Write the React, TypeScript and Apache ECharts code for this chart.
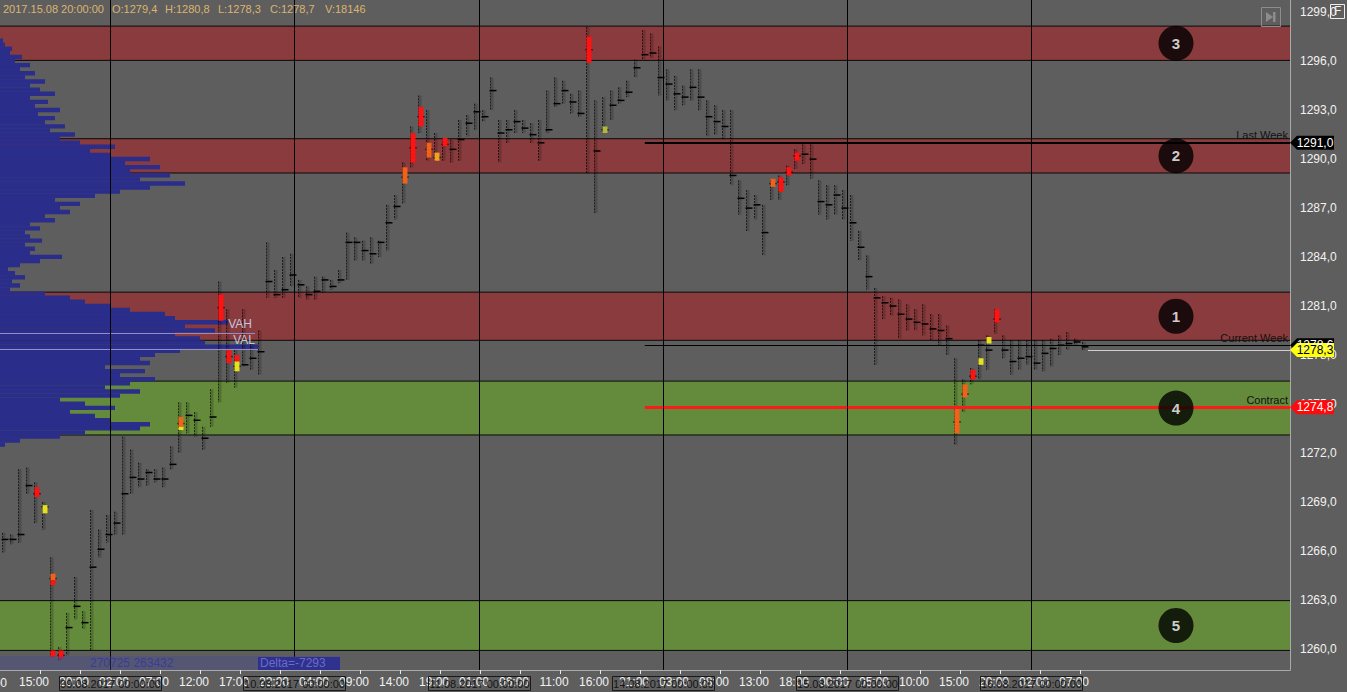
import React, { useEffect, useRef } from 'react';
import * as echarts from 'echarts';

// ---------- data ----------
const highs = [
  1267.1, 1267.0, 1271.0, 1271.1, 1270.2, 1269.0, 1265.6, 1260.1, 1262.2, 1264.4,
  1262.3, 1268.5, 1267.3, 1268.2, 1268.4, 1273.0, 1272.2, 1271.4, 1271.0, 1271.0,
  1271.1, 1272.4, 1275.1, 1275.1, 1274.5, 1273.6, 1275.9, 1282.5, 1280.8, 1278.3,
  1280.8, 1278.7, 1279.5, 1284.9, 1283.2, 1284.0, 1284.2, 1282.6, 1282.2, 1282.8,
  1282.8, 1282.6, 1283.2, 1285.5, 1285.2, 1285.0, 1285.2, 1285.0, 1287.2, 1287.8,
  1289.8, 1292.0, 1293.9, 1293.0, 1291.6, 1291.3, 1291.2, 1292.4, 1292.7, 1293.4,
  1293.0, 1295.0, 1292.4, 1292.4, 1293.0, 1292.4, 1292.2, 1292.4, 1294.2, 1295.0,
  1294.8, 1294.0, 1294.2, 1298.1, 1293.6, 1293.8, 1294.2, 1294.4, 1294.8, 1296.1,
  1297.9, 1297.7, 1296.9, 1295.5, 1295.1, 1294.5, 1295.5, 1295.5, 1293.6, 1293.3,
  1293.0, 1293.0, 1288.7, 1288.1, 1287.8, 1287.2, 1288.7, 1289.0, 1289.6, 1290.6,
  1290.9, 1290.9, 1288.7, 1288.4, 1288.4, 1288.1, 1287.8, 1285.6, 1284.1, 1282.1,
  1281.6, 1281.5, 1281.4, 1281.1, 1280.8, 1281.1, 1280.5, 1280.5, 1279.8, 1277.8,
  1276.5, 1277.2, 1278.9, 1279.2, 1280.8, 1279.2, 1278.9, 1278.9, 1278.9, 1278.9,
  1278.9, 1279.0, 1279.2, 1279.4, 1279.0, 1278.8,
];
const lows = [
  1265.9, 1266.4, 1266.5, 1269.5, 1267.7, 1267.3, 1259.5, 1259.3, 1259.6, 1261.8,
  1261.2, 1259.9, 1265.6, 1266.5, 1267.0, 1267.0, 1269.5, 1269.9, 1270.0, 1270.2,
  1269.9, 1271.0, 1272.0, 1273.2, 1273.0, 1272.2, 1273.6, 1275.1, 1276.3, 1276.0,
  1277.3, 1277.1, 1276.8, 1281.5, 1281.5, 1281.5, 1282.2, 1281.5, 1281.4, 1281.4,
  1281.8, 1282.0, 1282.4, 1282.6, 1283.8, 1283.8, 1283.6, 1284.0, 1284.4, 1286.3,
  1287.3, 1289.5, 1291.6, 1289.9, 1289.9, 1289.9, 1289.8, 1289.9, 1291.4, 1291.8,
  1292.3, 1293.0, 1289.8, 1291.0, 1291.6, 1291.6, 1291.0, 1289.9, 1291.6, 1293.2,
  1293.4, 1292.8, 1292.6, 1289.1, 1286.7, 1291.6, 1292.4, 1293.4, 1293.8, 1295.0,
  1296.1, 1296.2, 1293.9, 1293.6, 1293.0, 1293.3, 1293.6, 1293.0, 1291.4, 1291.5,
  1291.2, 1288.4, 1286.6, 1285.6, 1286.3, 1284.1, 1287.5, 1287.5, 1288.4, 1289.4,
  1289.7, 1288.8, 1286.6, 1286.3, 1286.6, 1286.3, 1285.0, 1283.8, 1282.0, 1277.4,
  1280.2, 1280.4, 1279.0, 1279.5, 1279.5, 1279.2, 1278.9, 1278.6, 1278.0, 1272.5,
  1274.5, 1276.2, 1276.5, 1277.1, 1279.3, 1277.8, 1276.8, 1277.1, 1277.4, 1277.1,
  1277.0, 1277.3, 1278.0, 1278.3, 1278.6, 1278.3,
];
const pocs = [
  1266.7, 1266.7, 1267.0, 1270.0, 1269.5, 1268.7, 1264.3, 1259.6, 1261.3, 1262.6,
  1261.6, 1265.0, 1266.1, 1267.0, 1267.7, 1269.5, 1270.5, 1270.4, 1270.8, 1270.4,
  1270.4, 1271.3, 1273.8, 1274.3, 1274.0, 1272.9, 1274.2, 1280.9, 1277.9, 1277.3,
  1277.4, 1277.8, 1278.2, 1282.5, 1281.7, 1282.0, 1282.9, 1282.3, 1281.7, 1281.9,
  1282.6, 1282.2, 1282.6, 1284.9, 1284.9, 1284.4, 1284.2, 1284.9, 1286.1, 1287.1,
  1288.9, 1290.7, 1292.6, 1290.6, 1290.1, 1290.9, 1290.6, 1291.2, 1292.2, 1292.9,
  1292.6, 1294.2, 1291.6, 1291.8, 1292.3, 1291.9, 1291.5, 1291.0, 1291.8, 1293.4,
  1294.2, 1293.5, 1292.8, 1296.7, 1290.5, 1291.8, 1293.3, 1293.6, 1294.1, 1295.6,
  1296.4, 1296.5, 1295.0, 1294.6, 1294.0, 1293.8, 1294.4, 1293.8, 1292.6, 1292.3,
  1292.0, 1289.0, 1287.6, 1287.0, 1287.2, 1285.5, 1288.5, 1288.6, 1289.2, 1290.2,
  1290.3, 1290.0, 1287.4, 1287.2, 1287.8, 1287.0, 1286.1, 1284.6, 1282.8, 1281.5,
  1281.2, 1281.0, 1280.5, 1280.2, 1280.0, 1279.9, 1279.6, 1279.5, 1279.0, 1273.9,
  1275.6, 1276.7, 1278.6, 1278.3, 1280.2, 1278.3, 1277.6, 1277.8, 1277.9, 1277.5,
  1278.1, 1278.4, 1278.6, 1278.7, 1278.8, 1278.5,
];

// volume clusters (bar index, price range, heat)
const heatBars = [4, 5, 6, 6, 6, 7, 22, 22, 27, 28, 29, 29, 50, 51, 52, 53, 54, 55, 73, 75, 96, 97, 98, 99, 119, 120, 121, 122, 123, 124];
const heatLows = [1269.3, 1268.3, 1264.2, 1263.9, 1259.5, 1259.4, 1273.6, 1273.4, 1280.1, 1277.5, 1277.6, 1277.0, 1288.5, 1289.8, 1292.0, 1290.1, 1289.9, 1290.8, 1295.9, 1291.6, 1288.3, 1288.0, 1289.0, 1289.9, 1273.2, 1275.4, 1276.5, 1277.4, 1278.7, 1280.0];
const heatHighs = [1269.9, 1268.8, 1264.6, 1264.2, 1259.9, 1259.9, 1274.2, 1273.6, 1281.7, 1278.3, 1278.0, 1277.6, 1289.5, 1291.6, 1293.2, 1291.0, 1290.4, 1291.3, 1297.5, 1292.0, 1288.8, 1288.9, 1289.5, 1290.4, 1274.8, 1276.2, 1277.1, 1277.8, 1279.1, 1280.8];
const heatKinds = ['red', 'yellow', 'orange', 'red', 'red', 'red', 'orange', 'yellow', 'red', 'red', 'red', 'yellow', 'orange', 'red', 'red', 'orange', 'amber', 'red', 'red', 'olive', 'orange', 'red', 'red', 'red', 'orange', 'orange', 'red', 'yellow', 'yellow', 'red'];

// volume profile (price levels from PROFILE_BASE, every PROFILE_STEP)
const PROFILE_BASE = 1272.5;
const PROFILE_STEP = 0.25;
const profileVol = [
  5, 20, 60, 85, 140, 150, 110, 95, 70, 115,
  85, 60, 120, 140, 105, 130, 155, 120, 145, 105,
  150, 140, 155, 180, 258, 205, 200, 175, 215, 185,
  228, 175, 165, 130, 110, 85, 70, 45, 10, 20,
  12, 25, 15, 8, 20, 40, 62, 30, 35, 25,
  42, 30, 25, 40, 30, 55, 45, 70, 60, 80,
  55, 95, 120, 150, 185, 140, 170, 130, 160, 125,
  150, 110, 90, 115, 80, 60, 75, 50, 65, 45,
  55, 38, 60, 35, 48, 30, 55, 40, 30, 45,
  25, 35, 20, 30, 15, 22, 10, 12, 5, 3,
];
const VAH = 1279.35;
const VAL = 1278.37;

// zones
const zoneLows = [1296.05, 1289.15, 1278.9, 1273.1, 1259.9];
const zoneHighs = [1298.15, 1291.25, 1281.85, 1276.4, 1262.95];
const zoneKinds = ['red', 'red', 'red', 'green', 'green'];
const zoneLabels = ['3', '2', '1', '4', '5'];

// levels
const LAST_WEEK = 1291.0;
const CURRENT_WEEK = 1278.6;
const CONTRACT = 1274.8;
const LAST_PRICE = 1278.3;
const LEVELS_FROM = 80.1; // bar position where weekly levels start

// time axis
const timeLabels = ['10:00', '15:00', '20:00', '02:00', '07:00', '12:00', '17:00', '22:00', '04:00', '09:00', '14:00', '19:00', '01:00', '06:00', '11:00', '16:00', '21:00', '03:00', '08:00', '13:00', '18:00', '00:00', '05:00', '10:00', '15:00', '20:00', '02:00', '07:00'];
const daySeps = [13.25, 36.25, 59.4, 82.4, 105.4, 128.4];
const dayLabels = ['09.08.2017 00:00:00', '10.08.2017 00:00:00', '11.08.2017 00:00:00', '14.08.2017 00:00:00', '15.08.2017 00:00:00', '16.08.2017 00:00:00'];
const priceTicks = [1260, 1263, 1266, 1269, 1272, 1275, 1278, 1281, 1284, 1287, 1290, 1293, 1296, 1299];

// header
const headerDate = '2017.15.08 20:00:00';
const headerOHLC = ['O:1279,4', 'H:1280,8', 'L:1278,3', 'C:1278,7', 'V:18146'];
const profileTotals = '270725 263432';
const deltaText = 'Delta=-7293';

// ---------- style ----------
const FONT = "'Liberation Sans', Arial, sans-serif";
const BG = '#5e5e5e';
const ZONE_COLORS: any = { red: '#8a3b3d', green: '#648a3c' };
const HEAT_COLORS: any = { red: '#ff1212', orange: '#f0621a', yellow: '#e6e020', amber: '#f0a41a', olive: '#b4b83a' };
const X_MIN = -0.5;
const X_MAX = 160.75;
const Y_MIN = 1258.7;
const Y_MAX = 1299.75;
const fmtPrice = (v: number) => v.toFixed(1).replace('.', ',');

export default function App() {
  const ref = useRef<HTMLDivElement>(null);
  useEffect(() => {
    document.body.style.margin = '0';
    document.body.style.background = BG;
    const chart = echarts.init(ref.current!, undefined, { renderer: 'svg' });

    const tickVals = timeLabels.map((_, k) => 5 * k - 0.5).filter((v) => v > X_MIN);
    const labelVals = timeLabels.map((_, k) => 5 * k - 1.25).filter((v) => v > X_MIN);

    const option: any = {
      animation: false,
      backgroundColor: BG,
      grid: { left: 0, right: 57, top: 0, bottom: 22, containLabel: false },
      xAxis: [
        {
          type: 'value', min: X_MIN, max: X_MAX, position: 'bottom',
          axisLine: { show: true, onZero: false, lineStyle: { color: '#a9a9a9', width: 1 } },
          axisTick: { show: true, customValues: tickVals, length: 4, lineStyle: { color: '#e6e6e6' } },
          axisLabel: {
            customValues: labelVals,
            formatter: (v: number) => timeLabels[Math.round((v + 1.25) / 5)] ?? '',
            color: '#f2f2f2', fontSize: 12, fontFamily: FONT, margin: 6,
          },
          splitLine: { show: false },
        },
        { type: 'value', min: 0, max: 1290, show: false, axisLine: { onZero: false } },
      ],
      yAxis: {
        type: 'value', min: Y_MIN, max: Y_MAX, position: 'right',
        axisLine: { show: true, onZero: false, lineStyle: { color: '#a9a9a9', width: 1 } },
        axisTick: { show: false },
        axisLabel: {
          customValues: priceTicks, formatter: (v: number) => fmtPrice(v),
          color: '#f2f2f2', fontSize: 12, fontFamily: FONT, margin: 10,
        },
        splitLine: { show: false },
      },
      series: [
        {
          type: 'custom', name: 'zones', z: 1, silent: true, clip: false,
          data: zoneLows.map((lo, k) => [0, lo, zoneHighs[k]]),
          encode: { x: 0, y: [1, 2] },
          renderItem: (params: any, api: any) => {
            const cs = params.coordSys;
            const top = api.coord([0, api.value(2)])[1];
            const bot = api.coord([0, api.value(1)])[1];
            const fill = ZONE_COLORS[zoneKinds[params.dataIndex]];
            return {
              type: 'group',
              children: [
                { type: 'rect', shape: { x: cs.x, y: top, width: cs.width, height: bot - top }, style: { fill } },
                { type: 'line', shape: { x1: cs.x, y1: top, x2: cs.x + cs.width, y2: top }, style: { stroke: '#0a0a0a', lineWidth: 1 } },
                { type: 'line', shape: { x1: cs.x, y1: bot, x2: cs.x + cs.width, y2: bot }, style: { stroke: '#0a0a0a', lineWidth: 1 } },
              ],
            };
          },
        },
        {
          type: 'custom', name: 'profile', z: 2, silent: true, xAxisIndex: 1, yAxisIndex: 0,
          data: profileVol.map((v, k) => [v, PROFILE_BASE + k * PROFILE_STEP]),
          encode: { x: 0, y: 1 },
          renderItem: (params: any, api: any) => {
            const p = api.value(1);
            const a = api.coord([0, p + PROFILE_STEP / 2 + 0.02]);
            const b = api.coord([api.value(0), p - PROFILE_STEP / 2]);
            return {
              type: 'rect',
              shape: { x: a[0], y: a[1], width: b[0] - a[0], height: b[1] - a[1] },
              style: { fill: '#2b2d8a' },
            };
          },
          markLine: {
            silent: true, symbol: 'none',
            lineStyle: { color: '#8e8ecc', width: 1, type: 'solid' },
            label: { show: true, position: 'insideEndTop', color: '#c4c4dc', fontSize: 12, fontFamily: FONT, distance: 3 },
            data: [
              [{ coord: [0, VAH], label: { formatter: 'VAH' } }, { coord: [255, VAH] }],
              [{ coord: [0, VAL], label: { formatter: 'VAL' } }, { coord: [258, VAL] }],
            ],
          },
        },
        {
          type: 'custom', name: 'bars', z: 3, silent: true,
          data: highs.map((h, i) => [i, h, lows[i], pocs[i]]),
          encode: { x: 0, y: [1, 2] },
          renderItem: (params: any, api: any) => {
            const i = api.value(0);
            const hi = api.coord([i, api.value(1)]);
            const lo = api.coord([i, api.value(2)]);
            const tk = api.coord([i, api.value(3)]);
            const x = Math.round(hi[0]) - 1.5;
            return {
              type: 'group',
              children: [
                { type: 'rect', shape: { x: x + 0.5, y: hi[1], width: 2.5, height: lo[1] - hi[1] }, style: { fill: 'rgba(0,0,0,0.18)' } },
                { type: 'line', shape: { x1: x, y1: hi[1], x2: x, y2: lo[1] }, style: { stroke: 'rgba(0,0,0,0.7)', lineWidth: 1, lineDash: [2, 1] } },
                { type: 'line', shape: { x1: x - 1, y1: tk[1], x2: x + 6, y2: tk[1] }, style: { stroke: '#000', lineWidth: 1.5 } },
              ],
            };
          },
        },
        {
          type: 'custom', name: 'clusters', z: 4, silent: true,
          data: heatBars.map((b, k) => [b, heatLows[k], heatHighs[k]]),
          encode: { x: 0, y: [1, 2] },
          renderItem: (params: any, api: any) => {
            const i = api.value(0);
            const top = api.coord([i, api.value(2)]);
            const bot = api.coord([i, api.value(1)]);
            const x = Math.round(top[0]) - 1.5;
            return {
              type: 'rect',
              shape: { x: x, y: top[1], width: 5, height: Math.max(2, bot[1] - top[1]) },
              style: { fill: HEAT_COLORS[heatKinds[params.dataIndex]] },
            };
          },
        },
        {
          type: 'custom', name: 'days', z: 5, silent: true, clip: false,
          data: daySeps.map((d) => [d, Y_MIN]),
          encode: { x: 0, y: 1 },
          renderItem: (params: any, api: any) => {
            const cs = params.coordSys;
            const p = api.coord([api.value(0), Y_MIN]);
            const x = Math.round(p[0]) + 0.5;
            const by = cs.y + cs.height + 6;
            return {
              type: 'group',
              children: [
                { type: 'line', shape: { x1: x, y1: cs.y, x2: x, y2: cs.y + cs.height }, style: { stroke: '#000', lineWidth: 1 } },
                { type: 'rect', shape: { x: x - 51, y: by + 0.5, width: 102, height: 14 }, style: { fill: 'none', stroke: '#1a1a1a', lineWidth: 1 } },
                {
                  type: 'text',
                  style: {
                    text: dayLabels[params.dataIndex], x: x, y: by + 8,
                    align: 'center', verticalAlign: 'middle', textAlign: 'center', textVerticalAlign: 'middle',
                    fill: '#151515', font: `11px ${FONT}`,
                  },
                },
              ],
            };
          },
          markLine: {
            silent: true, symbol: 'none',
            label: { show: true, position: 'insideEndTop', color: '#111', fontSize: 11, fontFamily: FONT, distance: 2 },
            data: [
              [{ coord: [LEVELS_FROM, LAST_WEEK], lineStyle: { color: '#000', width: 2, type: 'solid' }, label: { formatter: 'Last Week' } }, { coord: [X_MAX, LAST_WEEK] }],
              [{ coord: [LEVELS_FROM, CURRENT_WEEK], lineStyle: { color: '#000', width: 1, type: 'solid' }, label: { formatter: 'Current Week' } }, { coord: [X_MAX, CURRENT_WEEK] }],
              [{ coord: [LEVELS_FROM, CONTRACT], lineStyle: { color: '#ff1a1a', width: 3, type: 'solid' }, label: { formatter: 'Contract' } }, { coord: [X_MAX, CONTRACT] }],
              [{ coord: [highs.length - 0.5, LAST_PRICE], lineStyle: { color: '#cfcfcf', width: 1, type: 'solid' }, label: { show: false } }, { coord: [X_MAX, LAST_PRICE] }],
            ],
          },
          markPoint: {
            silent: true,
            symbol: 'path://M0,7L7,0L44,0L44,14L7,14Z',
            symbolSize: [44, 14], symbolOffset: [22, 0], symbolKeepAspect: false,
            label: { show: true, position: 'inside', fontSize: 12, fontFamily: FONT, offset: [3, 0] },
            data: [
              { coord: [X_MAX, LAST_WEEK], itemStyle: { color: '#000' }, label: { formatter: fmtPrice(LAST_WEEK), color: '#fff' } },
              { coord: [X_MAX, CURRENT_WEEK], itemStyle: { color: '#000' }, label: { formatter: fmtPrice(CURRENT_WEEK), color: '#fff' } },
              { coord: [X_MAX, LAST_PRICE], itemStyle: { color: '#ffff10' }, label: { formatter: fmtPrice(LAST_PRICE), color: '#000' } },
              { coord: [X_MAX, CONTRACT], itemStyle: { color: '#ff0a0a' }, label: { formatter: fmtPrice(CONTRACT), color: '#fff' } },
            ],
          },
        },
        {
          type: 'scatter', name: 'zoneMarks', z: 7, silent: true,
          symbolSize: 35, itemStyle: { color: '#000' },
          data: zoneLows.map((lo, k) => [146.5, (lo + zoneHighs[k]) / 2]),
          label: {
            show: true, position: 'inside', color: '#fff', fontSize: 15, fontWeight: 'bold', fontFamily: FONT,
            formatter: (p: any) => zoneLabels[p.dataIndex],
          },
        },
      ],
      graphic: [
        { type: 'text', x: 3, y: 3, z: 10, style: { text: headerDate, fill: '#dcb46e', font: `11px ${FONT}` } },
        ...headerOHLC.map((t, k) => ({
          type: 'text', x: [112, 165, 218, 270, 325][k], y: 3, z: 10,
          style: { text: t, fill: '#dcb46e', font: `11px ${FONT}` },
        })),
        { type: 'text', x: -23, y: 677, z: 10, style: { text: timeLabels[0], fill: '#f2f2f2', font: `12px ${FONT}` } },
        { type: 'rect', z: 10, shape: { x: 1261.5, y: 7.5, width: 19, height: 19 }, style: { fill: 'none', stroke: '#8c8c8c', lineWidth: 1 } },
        { type: 'polygon', z: 10, shape: { points: [[1266, 12], [1266, 22], [1273, 17]] }, style: { fill: '#8c8c8c' } },
        { type: 'rect', z: 10, shape: { x: 1273, y: 12, width: 2.5, height: 10 }, style: { fill: '#8c8c8c' } },
        { type: 'rect', z: 10, shape: { x: 1330.5, y: 4.5, width: 14, height: 14 }, style: { fill: 'none', stroke: '#eeeeee', lineWidth: 1 } },
        { type: 'text', z: 10, x: 1334, y: 5, style: { text: 'F', fill: '#eeeeee', font: `12px ${FONT}` } },
        { type: 'rect', z: 10, shape: { x: 0, y: 656, width: 340, height: 14 }, style: { fill: 'rgba(70,72,150,0.35)' } },
        { type: 'text', z: 10, x: 90, y: 657, style: { text: profileTotals, fill: '#3a3c9c', font: `12px ${FONT}` } },
        { type: 'rect', z: 10, shape: { x: 258, y: 657, width: 82, height: 13 }, style: { fill: '#2f318f' } },
        { type: 'text', z: 11, x: 260, y: 657, style: { text: deltaText, fill: '#6c6cc4', font: `12px ${FONT}` } },
      ],
    };

    chart.setOption(option);
    return () => chart.dispose();
  }, []);

  return <div ref={ref} style={{ width: 1347, height: 692, position: 'absolute', left: 0, top: 0 }} />;
}
